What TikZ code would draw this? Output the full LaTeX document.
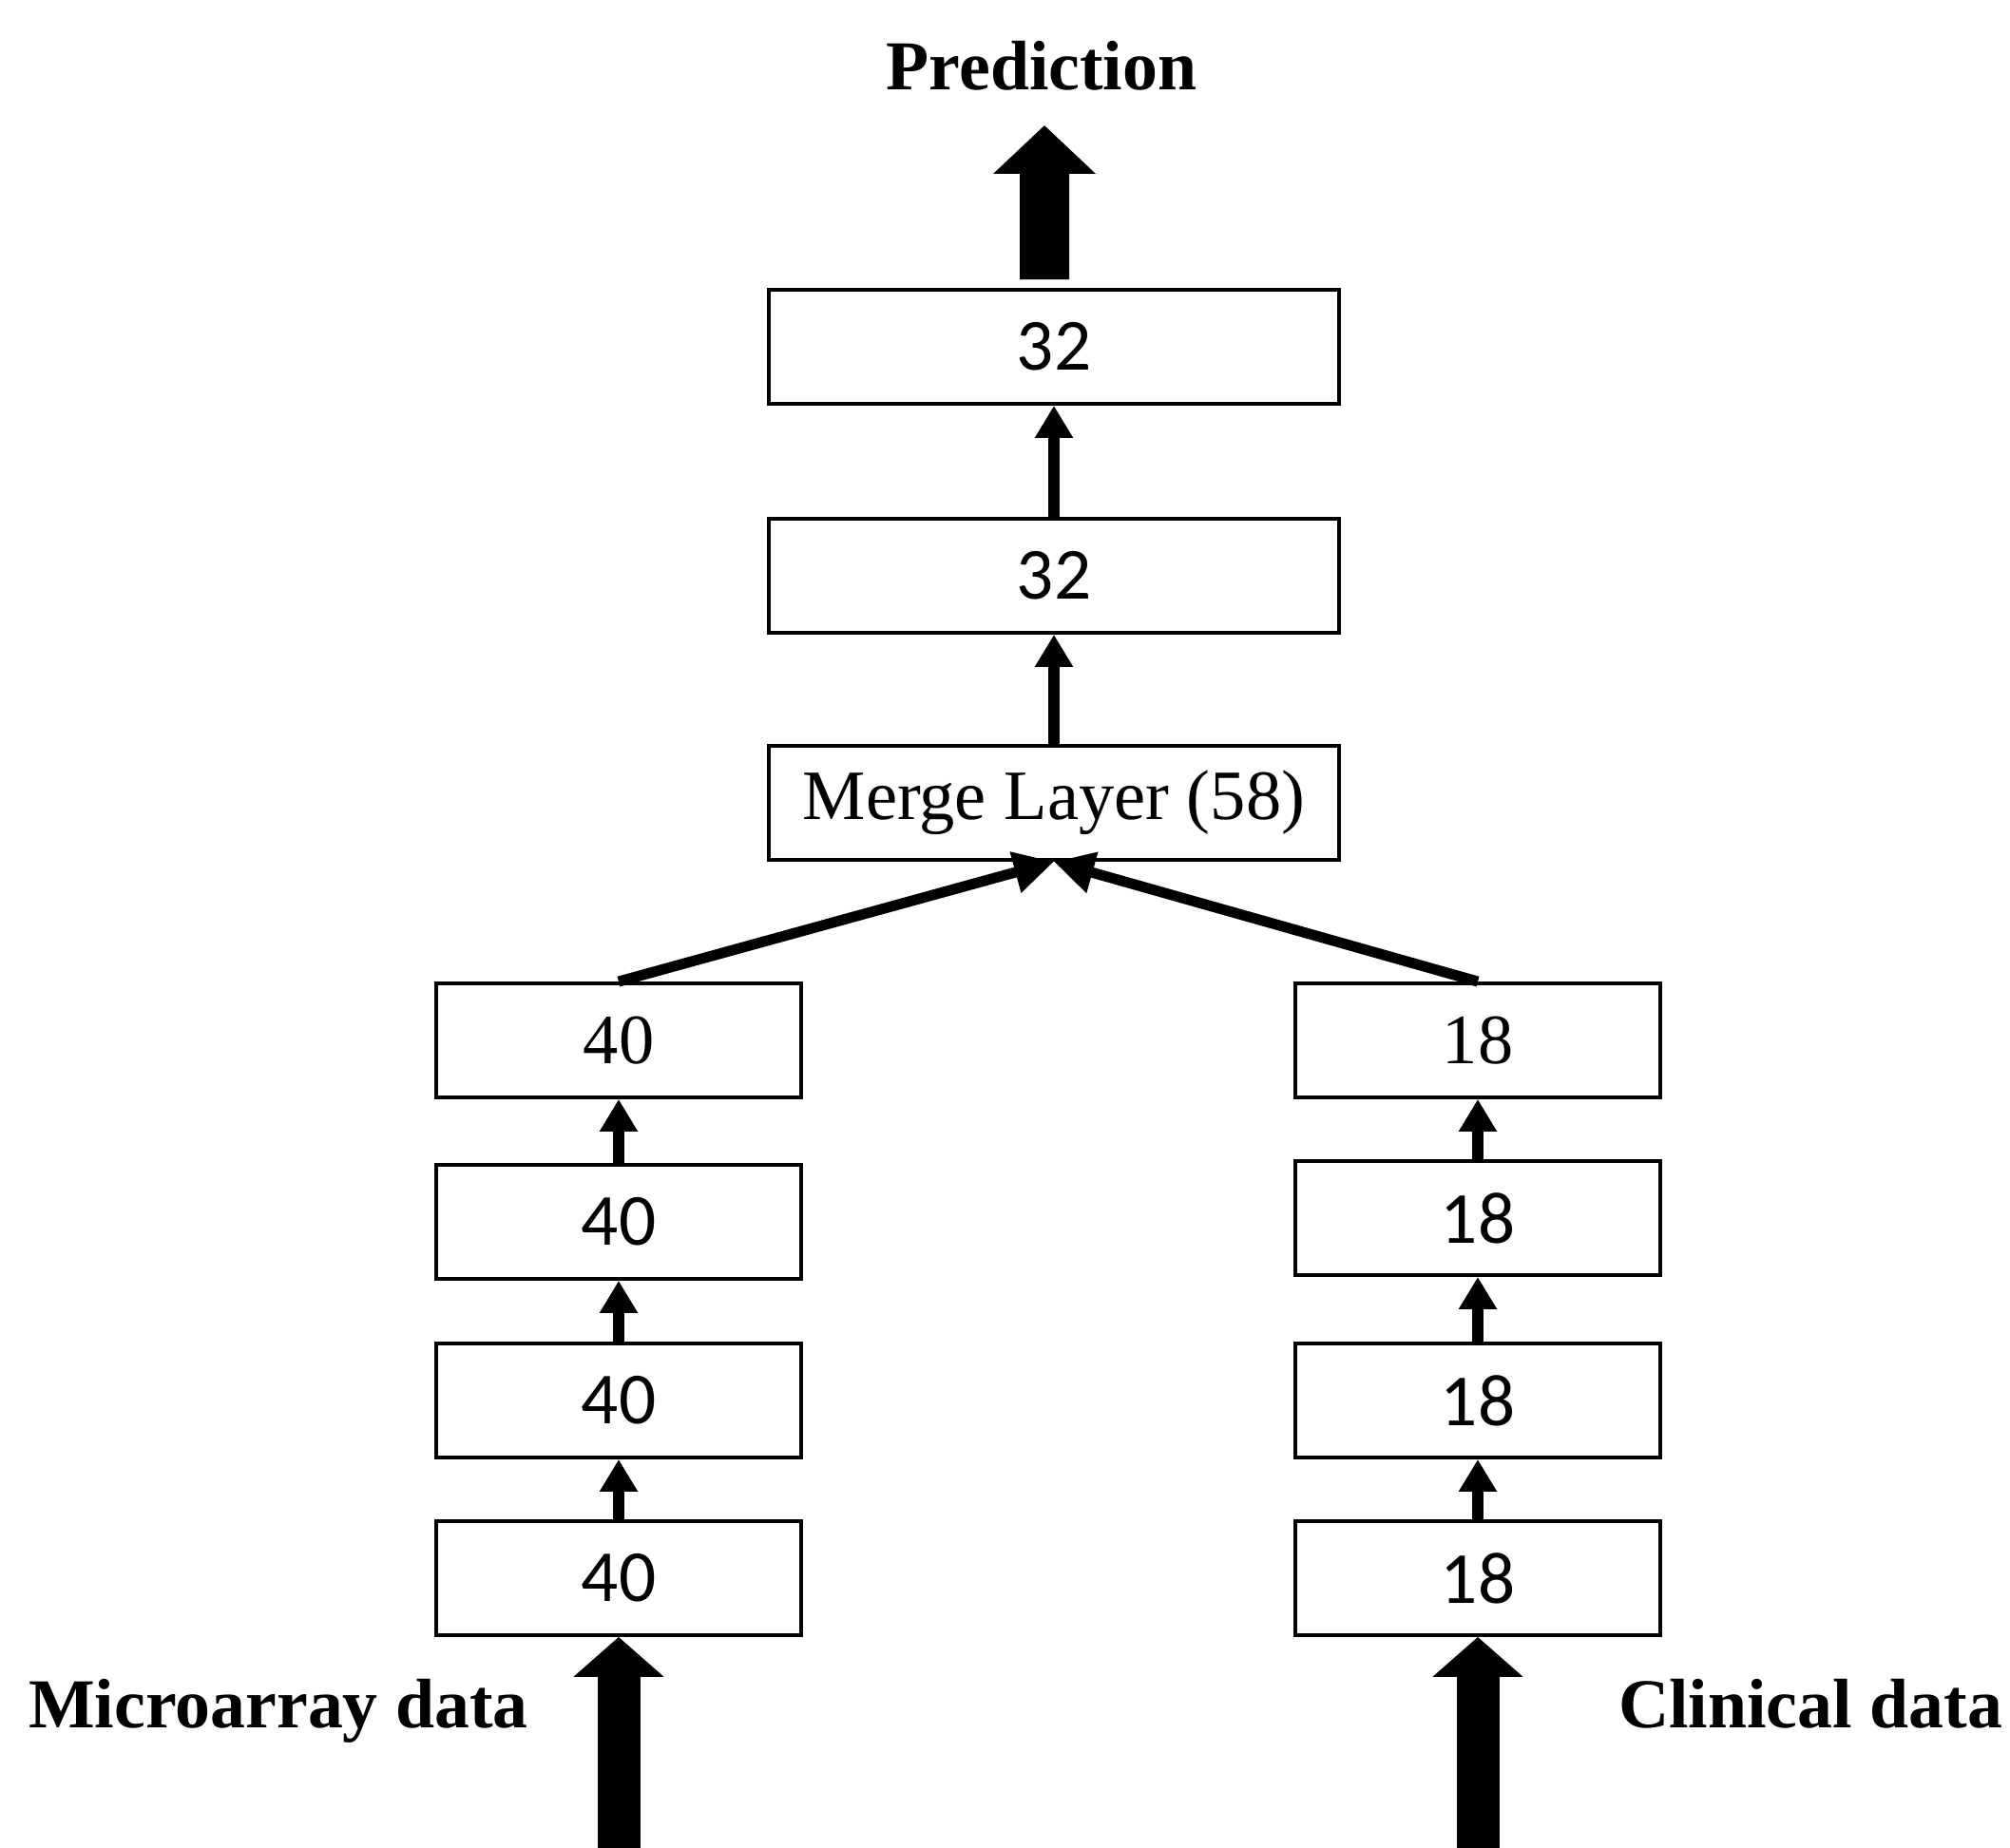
\documentclass[tikz,border=0pt]{standalone}
\usepackage{fontspec}
\setmainfont{Liberation Serif}
\newfontfamily\numfont{Carlito}
\usetikzlibrary{arrows.meta}

\begin{document}
\begin{tikzpicture}[thick,
    layer node/.style={draw,line width=1.1pt,minimum width=3.84cm,minimum height=1.2cm,inner sep=0pt,font=\fontsize{21.2}{25}\selectfont},
    num node/.style={layer node,font=\numfont\fontsize{22}{26}\selectfont},
    wide/.style={minimum width=6cm},
    label font/.style={font=\bfseries\fontsize{21}{25}\selectfont},
    flow/.style={-{Triangle[length=0.34cm,width=0.38cm]},line width=0.12cm},
    merge flow/.style={-{Triangle[length=0.42cm,width=0.42cm]},line width=0.11cm},
    big flow/.style={-{Triangle[length=0.42cm,width=0.93cm]},line width=0.45cm}]
    \useasboundingbox (0,0) rectangle (21.15,19.45);

    % center stack
    \node[layer node,wide] at (11.09,11.00) (merge) {Merge Layer (58)};
    \node[num node,wide] at (11.09,13.39) (d1) {32};
    \node[num node,wide] at (11.09,15.80) (d2) {32};

    % microarray branch
    \node[num node] at (6.51,2.84) (l1) {40};
    \node[num node] at (6.51,4.71) (l2) {40};
    \node[num node] at (6.51,6.59) (l3) {40};
    \node[layer node] at (6.51,8.50) (l4) {40};

    % clinical branch
    \node[num node] at (15.55,2.84) (r1) {18};
    \node[num node] at (15.55,4.71) (r2) {18};
    \node[num node] at (15.55,6.63) (r3) {18};
    \node[layer node] at (15.55,8.50) (r4) {18};

    \node[label font,anchor=base] at (10.96,18.50) (pred) {Prediction};
    \node[label font,anchor=base] at (2.93,1.26) (micro) {Microarray data};
    \node[label font,anchor=base] at (19.05,1.26) (clin) {Clinical data};

    \coordinate (predtip) at (10.99,18.13);
    \coordinate (microin) at (6.51,0);
    \coordinate (clinin) at (15.55,0);

    \path
        (l1) edge[flow] (l2)
        (l2) edge[flow] (l3)
        (l3) edge[flow] (l4)
        (r1) edge[flow] (r2)
        (r2) edge[flow] (r3)
        (r3) edge[flow] (r4)
        (merge) edge[flow] (d1)
        (d1) edge[flow] (d2)
        (l4.north) edge[merge flow] (merge.south)
        (r4.north) edge[merge flow] (merge.south)
        ;

    \draw[big flow] (microin) -- (l1.south);
    \draw[big flow] (clinin) -- (r1.south);
    \draw[big flow,-{Triangle[length=0.51cm,width=1.05cm]},line width=0.52cm] ([xshift=-0.1cm,yshift=0.09cm]d2.north) -- (predtip);
\end{tikzpicture}
\end{document}
